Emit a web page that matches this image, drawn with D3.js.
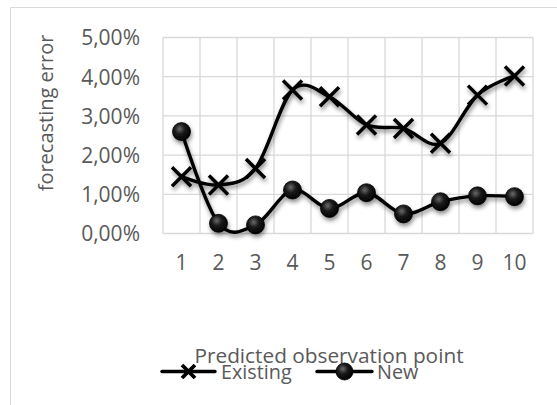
<!DOCTYPE html>
<html>
<head>
<meta charset="utf-8">
<script src="https://cdn.jsdelivr.net/npm/d3@7/dist/d3.min.js"></script>
<style>
  html, body { margin: 0; padding: 0; background: #fff; }
  svg { display: block; }
  text { font-family: "Open Sans", Lato, sans-serif; fill: #595959; }
</style>
</head>
<body>
<svg id="chart" width="557" height="405"></svg>
<script>
// Observation points and forecasting errors (in %)
const categories = ["1", "2", "3", "4", "5", "6", "7", "8", "9", "10"];
const existingErr = [1.45, 1.24, 1.66, 3.66, 3.49, 2.77, 2.68, 2.30, 3.53, 4.02];
const newErr = [2.60, 0.26, 0.22, 1.11, 0.64, 1.04, 0.50, 0.81, 0.96, 0.94];
const yTicks = [0, 1, 2, 3, 4, 5];
const seriesNames = ["Existing", "New"];
const xTitle = "Predicted observation point";
const yTitle = "forecasting error";

const FONT = "'Open Sans', Lato, sans-serif";

const svg = d3.select("#chart");
const W = 557, H = 405;
const plot = { left: 163, right: 533, top: 37.5, bottom: 233.5 };

const x = d3.scaleBand().domain(categories).range([plot.left, plot.right]);
const y = d3.scaleLinear().domain([0, 5]).range([plot.bottom, plot.top]);
const xc = d => x(d) + x.bandwidth() / 2;

const defs = svg.append("defs");
const shadow = defs.append("filter").attr("id", "shadow")
  .attr("x", "-50%").attr("y", "-50%").attr("width", "200%").attr("height", "200%");
shadow.append("feDropShadow").attr("dx", 1).attr("dy", 3).attr("stdDeviation", 2)
  .attr("flood-color", "#000").attr("flood-opacity", 0.45);

const ball = defs.append("radialGradient").attr("id", "ball")
  .attr("cx", "40%").attr("cy", "35%").attr("r", "65%");
ball.append("stop").attr("offset", "0%").attr("stop-color", "#6a6a6a");
ball.append("stop").attr("offset", "45%").attr("stop-color", "#1a1a1a");
ball.append("stop").attr("offset", "100%").attr("stop-color", "#000");

// chart area frame (left and top edges)
svg.append("path")
  .attr("d", `M10.5,${H} L10.5,7.5 L${W},7.5`)
  .attr("fill", "none").attr("stroke", "#d9d9d9").attr("stroke-width", 1);

// gridlines
const grid = svg.append("g").attr("stroke", "#d9d9d9").attr("stroke-width", 1.3);
grid.selectAll("line.h").data(yTicks).join("line")
  .attr("x1", plot.left).attr("x2", plot.right)
  .attr("y1", d => y(d)).attr("y2", d => y(d));
const vEdges = categories.map(c => x(c)).concat([plot.right]);
grid.selectAll("line.v").data(vEdges).join("line")
  .attr("x1", d => d).attr("x2", d => d)
  .attr("y1", plot.top).attr("y2", plot.bottom);

// y-axis
const fmt = v => v.toFixed(2).replace(".", ",") + "%";
const yAxis = d3.axisLeft(y).tickValues(yTicks).tickFormat(fmt).tickSize(0).tickPadding(0);
const yG = svg.append("g").attr("transform", "translate(140,0)").call(yAxis);
yG.select(".domain").remove();
yG.selectAll("text").attr("font-size", 21).style("fill", "#595959")
  .attr("font-family", FONT).attr("dy", "0.35em");

// x-axis
const xAxis = d3.axisBottom(x).tickSize(0).tickPadding(0);
const xG = svg.append("g").attr("transform", "translate(0,255)").call(xAxis);
xG.select(".domain").remove();
xG.selectAll("text").attr("font-size", 21).style("fill", "#595959")
  .attr("font-family", FONT).attr("dy", "0.71em");

// axis titles
svg.append("text")
  .attr("transform", `translate(53,113) rotate(-90)`)
  .attr("text-anchor", "middle").attr("font-size", 20)
  .text(yTitle);
svg.append("text")
  .attr("x", 329).attr("y", 363)
  .attr("text-anchor", "middle").attr("font-size", 20.8)
  .text(xTitle);

// smoothed series lines
const line = d3.line()
  .x((d, i) => xc(categories[i]))
  .y(d => y(d))
  .curve(d3.curveCatmullRom.alpha(0));

const marks = svg.append("g").attr("filter", "url(#shadow)");
[existingErr, newErr].forEach(vals => {
  marks.append("path").datum(vals)
    .attr("d", line)
    .attr("fill", "none").attr("stroke", "#000").attr("stroke-width", 3.4)
    .attr("stroke-linejoin", "round").attr("stroke-linecap", "round");
});

function drawCross(g, cx, cy, s, w) {
  g.append("path")
    .attr("d", `M${cx - s},${cy - s}L${cx + s},${cy + s}M${cx - s},${cy + s}L${cx + s},${cy - s}`)
    .attr("stroke", "#000").attr("stroke-width", w).attr("fill", "none");
}
function drawBall(g, cx, cy, r) {
  g.append("circle").attr("cx", cx).attr("cy", cy).attr("r", r)
    .attr("fill", "url(#ball)").attr("stroke", "#000").attr("stroke-width", 0.8);
}

existingErr.forEach((v, i) => drawCross(marks, xc(categories[i]), y(v), 9.5, 3.5));
newErr.forEach((v, i) => drawBall(marks, xc(categories[i]), y(v), 9));

// legend
const legY = 371.5;
const leg = svg.append("g");
const legItems = [
  { name: seriesNames[0], x1: 162, x2: 215, tx: 221, type: "cross" },
  { name: seriesNames[1], x1: 317, x2: 372, tx: 377, type: "ball" }
];
legItems.forEach(it => {
  leg.append("line").attr("x1", it.x1).attr("x2", it.x2)
    .attr("y1", legY).attr("y2", legY)
    .attr("stroke", "#000").attr("stroke-width", 3.4).attr("stroke-linecap", "round");
  const mx = (it.x1 + it.x2) / 2;
  if (it.type === "cross") drawCross(leg, mx, legY, 6.5, 3.8);
  else drawBall(leg, mx, legY, 8.5);
  leg.append("text").attr("x", it.tx).attr("y", legY + 7.5)
    .attr("font-size", 19.8).text(it.name);
});
</script>
</body>
</html>
